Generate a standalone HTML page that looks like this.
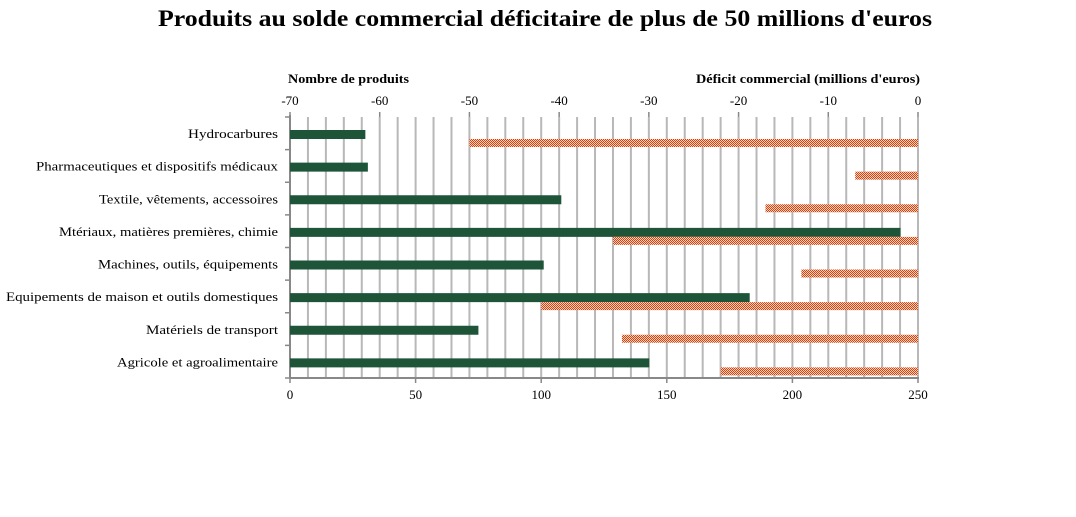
<!DOCTYPE html>
<html><head><meta charset="utf-8"><style>
body{margin:0;background:#fff;width:1076px;height:512px;overflow:hidden}
svg text{font-family:"Liberation Serif",serif;fill:#000}
</style></head><body>
<svg id="chart" width="1076" height="512">
<defs>
<pattern id="chk" width="2" height="2" patternUnits="userSpaceOnUse">
<rect width="2" height="2" fill="#f7d2bd"/><rect width="1" height="1" fill="#d8400f"/><rect x="1" y="1" width="1" height="1" fill="#d8400f"/>
</pattern>
</defs>
<text x="158" y="26" textLength="774" lengthAdjust="spacingAndGlyphs" font-size="23" font-weight="bold">Produits au solde commercial déficitaire de plus de 50 millions d'euros</text>
<text x="288" y="83" textLength="121" lengthAdjust="spacingAndGlyphs" font-size="13" font-weight="bold">Nombre de produits</text>
<text x="696" y="83" textLength="224" lengthAdjust="spacingAndGlyphs" font-size="13" font-weight="bold">Déficit commercial (millions  d'euros)</text>
<g id="g"></g>
</svg>
<script>
const categories=["Hydrocarbures","Pharmaceutiques et dispositifs médicaux","Textile, vêtements, accessoires","Mtériaux, matières premières, chimie","Machines, outils, équipements","Equipements de maison et outils domestiques","Matériels de transport","Agricole et agroalimentaire"];
const nbProduits=[30,31,108,243,101,183,75,143];
const deficit=[-50,-7,-17,-34,-13,-42,-33,-22];
const bottomTicks=[0,50,100,150,200,250];
const topTicks=[-70,-60,-50,-40,-30,-20,-10,0];
const X0=290,X1=918,Y0=117,Y1=378;
const xb=v=>X0+(v/250)*(X1-X0);
const xt=v=>X0+((v+70)/70)*(X1-X0);
const band=(Y1-Y0)/categories.length;
const g=document.getElementById('g');
const NS='http://www.w3.org/2000/svg';
function mk(t,a,txt){const e=document.createElementNS(NS,t);for(const k in a)e.setAttribute(k,a[k]);if(txt!=null)e.textContent=txt;g.appendChild(e);return e;}
for(let v=-68;v<=0;v+=2){
 const e=mk('line',{x1:xt(v),x2:xt(v),y1:Y0,y2:Y1,stroke:'#b8b8b8','stroke-width':2});
 
 
}
const ax=mk('line',{x1:X0,x2:X0,y1:Y0-2,y2:Y1,stroke:'#888','stroke-width':2});


const bx=mk('line',{x1:X0,x2:X1+1,y1:Y1,y2:Y1,stroke:'#888','stroke-width':2});


for(let i=0;i<=categories.length;i++){
 const t=mk('line',{x1:X0-5,x2:X0,y1:Y0+i*band,y2:Y0+i*band,stroke:'#888','stroke-width':1.5});
 
 
}
bottomTicks.forEach(v=>{
 const t=mk('line',{x1:xb(v),x2:xb(v),y1:Y1,y2:Y1+5,stroke:'#888','stroke-width':1.5});
 
 
 const l=mk('text',{x:xb(v),y:Y1+21,'text-anchor':'middle','font-size':13},v);
 
 
});
topTicks.forEach(v=>{
 const l=mk('text',{x:xt(v),y:105,'text-anchor':'middle','font-size':13},v);
 
 
 const t=mk('line',{x1:xt(v),x2:xt(v),y1:Y0-5,y2:Y0,stroke:'#888','stroke-width':1.5});
 
 
});
const labelLeft=[188,36,99,59,98,6,146,117];
categories.forEach((c,i)=>{
 const y=Y0+i*band;
 const l=mk('text',{x:labelLeft[i],y:y+21,'font-size':13,textLength:278-labelLeft[i],lengthAdjust:'spacingAndGlyphs'},c);
 
 
 const b=mk('rect',{x:X0,y:y+13,width:xb(nbProduits[i])-X0,height:9,fill:'#1e5538'});
 
 
 const r=mk('rect',{x:xt(deficit[i]),y:y+22,width:xt(0)-xt(deficit[i]),height:8,fill:'url(#chk)'});
 
 
});
</script>
</body></html>
